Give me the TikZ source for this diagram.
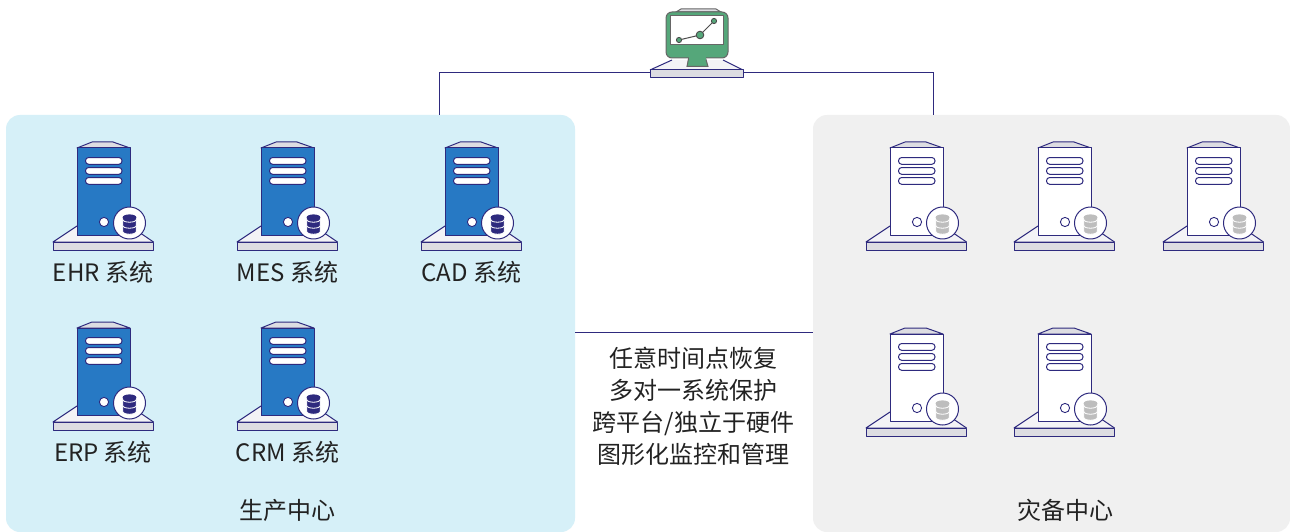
\documentclass[tikz,border=0pt]{standalone}
\usepackage{fontspec}
\setmainfont{Noto Sans CJK SC}
\definecolor{navy}{HTML}{2E2A7E}
\definecolor{srvblue}{HTML}{2779C4}
\definecolor{panelblue}{HTML}{D6F0F8}
\definecolor{panelgrey}{HTML}{F0F0F0}
\definecolor{basegrey}{HTML}{DDDDE2}
\definecolor{topgrey}{HTML}{F3F3F6}
\definecolor{mongreen}{HTML}{55A77A}
\definecolor{dbgrey}{HTML}{BDBDBD}
\definecolor{txt}{HTML}{222222}
\tikzset{
  x=1pt,y=-1pt,
  panel/.style={rounded corners=14pt,inner sep=0pt,outer sep=0pt},
  link/.style={draw=navy,line width=1pt},
  outl/.style={draw=navy,line width=1pt,line join=round},
  lbl/.style={font=\fontsize{24}{28}\selectfont,text=txt,inner sep=0pt},
  side/.style={font=\fontsize{24}{32}\selectfont,text=txt,inner sep=0pt,align=center},
  % server drawn with (0,0) at the left end of its plinth top edge
  pics/server/.style n args={2}{code={
    \fill[topgrey] (0,0) -- (24,-16) -- (77,-16) -- (100.5,0) -- cycle;
    \draw[outl] (24,-16) -- (0,0) -- (100.5,0);
    \draw[outl] (77,-16) -- (100.5,0);
    \draw[outl,fill=basegrey] (0,0) rectangle (100.5,8.5);
    \draw[outl,fill=basegrey] (24,-94) -- (39,-100) -- (60,-100) -- (77,-94) -- cycle;
    \draw[outl,fill=#1] (24,-94) rectangle (77,-6.5);
    \foreach \by in {-84.5,-74.5,-64.5}
      \draw[draw=navy,line width=1pt,fill=#2,rounded corners=3.2pt] (32.5,\by) rectangle (69,\by+6.8);
    \draw[draw=navy,line width=.9pt,fill=#2] (51,-20) circle (4.6);
    \draw[outl,fill=white] (76.5,-19) circle (16);
    \foreach \dy in {5.5,-0.5}
      \draw[draw=white,line width=.8pt,fill=\serverdb] (69.8,-19+\dy-3) -- (69.8,-19+\dy+3)
        .. controls (69.8,-19+\dy+6.6) and (83.2,-19+\dy+6.6) .. (83.2,-19+\dy+3)
        -- (83.2,-19+\dy-3) -- cycle;
    \draw[draw=white,line width=.8pt,fill=\serverdb] (69.8,-25) -- (69.8,-22.5)
        .. controls (69.8,-18.9) and (83.2,-18.9) .. (83.2,-22.5) -- (83.2,-25) -- cycle;
    \fill[\serverdb] (76.5,-24.6) ellipse (6.9 and 3);
  }},
}
\newcommand{\serverdb}{navy}
\begin{document}
\begin{tikzpicture}
\useasboundingbox (0,0) rectangle (1290,532);
\fill[white] (0,0) rectangle (1290,532);

% panels
\node[panel,fill=panelblue,minimum width=569pt,minimum height=417pt,anchor=north west] (prod) at (6,115) {};
\node[panel,fill=panelgrey,minimum width=477pt,minimum height=417pt,anchor=north west] (dr) at (813,115) {};

% monitor
\coordinate (monL) at (650,73);
\coordinate (monR) at (743,73);
\coordinate (prodTop) at (439.5,115);
\coordinate (drTop) at (933,115);
\draw[link] (monL) -| (prodTop);
\draw[link] (monR) -| (drTop);
\draw[link] (prod.east |- 0,332) -- (dr.west |- 0,332);

\fill[topgrey] (650,70) -- (672,60) -- (723,60) -- (743,70) -- cycle;
\draw[outl] (672,60) -- (650,70);
\draw[outl] (723,60) -- (743,70);
\draw[outl,fill=basegrey] (650,70) rectangle (743,77.5);
\draw[draw=black!60,line width=1pt,fill=basegrey] (676,12) -- (681,9) -- (716,9) -- (721,12) -- cycle;
\draw[draw=black!60,line width=1pt,fill=mongreen] (689,56) -- (687,66.5) -- (708,66.5) -- (705,56) -- cycle;
\draw[draw=black!60,line width=1pt,fill=mongreen,rounded corners=6pt] (666,12) rectangle (728,58);
\fill[mongreen] (688.5,53) rectangle (705.5,60);
\draw[draw=black!60,line width=1pt,fill=white] (670,16) rectangle (723,45);
\draw[draw=black!70,line width=1pt] (679,40) -- (700,35) -- (714,21);
\draw[draw=black!70,line width=.9pt,fill=mongreen] (679,40) circle (2.6);
\draw[draw=black!70,line width=.9pt,fill=mongreen] (700,35) circle (3.8);
\draw[draw=black!70,line width=.9pt,fill=mongreen] (714,21) circle (2.6);

% production servers
\pic at (53,242) {server={srvblue}{white}};
\pic at (237,242) {server={srvblue}{white}};
\pic at (421,242) {server={srvblue}{white}};
\pic at (53,422) {server={srvblue}{white}};
\pic at (237,422) {server={srvblue}{white}};

% standby servers
\renewcommand{\serverdb}{dbgrey}
\pic at (866,242) {server={white}{white}};
\pic at (1014,242) {server={white}{white}};
\pic at (1163,242) {server={white}{white}};
\pic at (866,428) {server={white}{white}};
\pic at (1014,428) {server={white}{white}};

% labels
\node[lbl] (l1) at (103,272) {EHR 系统};
\node[lbl] (l2) at (287.5,272) {MES 系统};
\node[lbl] (l3) at (471.5,272) {CAD 系统};
\node[lbl] (l4) at (103,452) {ERP 系统};
\node[lbl] (l5) at (287.5,452) {CRM 系统};
\node[lbl] (l6) at (287.5,510.5) {生产中心};
\node[lbl] (l7) at (1065,510.5) {灾备中心};
\node[side] (feat) at (693.5,406) {任意时间点恢复\\多对一系统保护\\跨平台/独立于硬件\\图形化监控和管理};
\end{tikzpicture}
\end{document}
